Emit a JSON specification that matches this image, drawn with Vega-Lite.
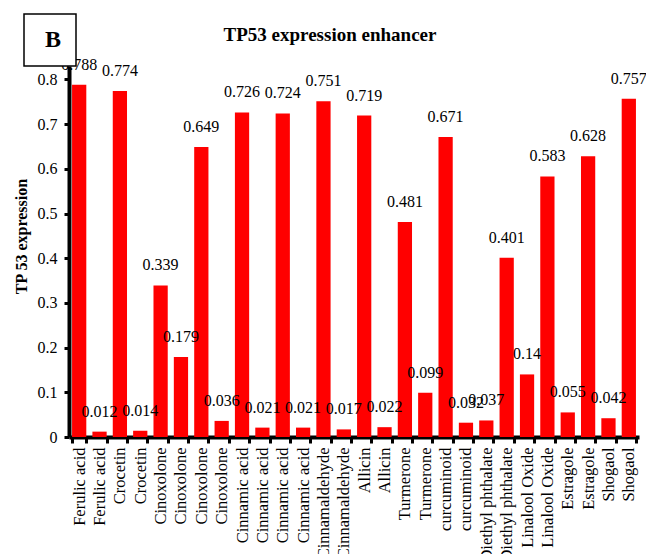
{
  "$schema": "https://vega.github.io/schema/vega-lite/v6.json",
  "width": 570,
  "height": 371,
  "autosize": "none",
  "padding": {"left": 69, "top": 66, "right": 7, "bottom": 117},
  "title": {
    "text": "TP53 expression enhancer",
    "font": "Times New Roman, Liberation Serif, serif",
    "fontSize": 19,
    "fontWeight": "bold",
    "color": "black",
    "anchor": "middle",
    "dx": -24,
    "dy": 52,
    "offset": 20
  },
  "data": {
    "values": [
      {"i": 0, "name": "Ferulic acid", "v": 0.788},
      {"i": 1, "name": "Ferulic acid", "v": 0.012},
      {"i": 2, "name": "Crocetin", "v": 0.774},
      {"i": 3, "name": "Crocetin", "v": 0.014},
      {"i": 4, "name": "Cinoxolone", "v": 0.339},
      {"i": 5, "name": "Cinoxolone", "v": 0.179},
      {"i": 6, "name": "Cinoxolone", "v": 0.649},
      {"i": 7, "name": "Cinoxolone", "v": 0.036},
      {"i": 8, "name": "Cinnamic acid", "v": 0.726},
      {"i": 9, "name": "Cinnamic acid", "v": 0.021},
      {"i": 10, "name": "Cinnamic acid", "v": 0.724},
      {"i": 11, "name": "Cinnamic acid", "v": 0.021},
      {"i": 12, "name": "Cinnamaldehyde", "v": 0.751},
      {"i": 13, "name": "Cinnamaldehyde", "v": 0.017},
      {"i": 14, "name": "Allicin", "v": 0.719},
      {"i": 15, "name": "Allicin", "v": 0.022},
      {"i": 16, "name": "Turmerone", "v": 0.481},
      {"i": 17, "name": "Turmerone", "v": 0.099},
      {"i": 18, "name": "curcuminoid", "v": 0.671},
      {"i": 19, "name": "curcuminoid", "v": 0.032},
      {"i": 20, "name": "Diethyl phthalate", "v": 0.037},
      {"i": 21, "name": "Diethyl phthalate", "v": 0.401},
      {"i": 22, "name": "Linalool Oxide", "v": 0.14},
      {"i": 23, "name": "Linalool Oxide", "v": 0.583},
      {"i": 24, "name": "Estragole", "v": 0.055},
      {"i": 25, "name": "Estragole", "v": 0.628},
      {"i": 26, "name": "Shogaol", "v": 0.042},
      {"i": 27, "name": "Shogaol", "v": 0.757}
    ]
  },
  "encoding": {
    "x": {
      "field": "i",
      "type": "ordinal",
      "scale": {"paddingInner": 0.3, "paddingOuter": 0.15},
      "axis": {
        "title": null,
        "labelExpr": "['Ferulic acid','Ferulic acid','Crocetin','Crocetin','Cinoxolone','Cinoxolone','Cinoxolone','Cinoxolone','Cinnamic acid','Cinnamic acid','Cinnamic acid','Cinnamic acid','Cinnamaldehyde','Cinnamaldehyde','Allicin','Allicin','Turmerone','Turmerone','curcuminoid','curcuminoid','Diethyl phthalate','Diethyl phthalate','Linalool Oxide','Linalool Oxide','Estragole','Estragole','Shogaol','Shogaol'][datum.value]",
        "labelAngle": 270,
        "labelFont": "Times New Roman, Liberation Serif, serif",
        "labelFontSize": 16.5,
        "labelColor": "black",
        "labelPadding": 4,
        "labelLimit": 200,
        "domainColor": "black",
        "domainWidth": 4,
        "tickColor": "black",
        "tickWidth": 3,
        "tickSize": 6,
        "tickBand": "extent"
      }
    },
    "y": {
      "field": "v",
      "type": "quantitative",
      "scale": {"domain": [0, 0.83], "nice": false},
      "axis": {
        "title": "TP 53 expression",
        "titleFont": "Times New Roman, Liberation Serif, serif",
        "titleFontSize": 16,
        "titleFontWeight": "bold",
        "titleColor": "black",
        "titleY": 170,
        "titlePadding": 8,
        "values": [0, 0.1, 0.2, 0.3, 0.4, 0.5, 0.6, 0.7, 0.8],
        "format": "~g",
        "labelFont": "Times New Roman, Liberation Serif, serif",
        "labelFontSize": 16,
        "labelColor": "black",
        "labelPadding": 7,
        "domainColor": "black",
        "domainWidth": 4,
        "tickColor": "black",
        "tickWidth": 3,
        "tickSize": 5,
        "grid": false
      }
    }
  },
  "layer": [
    {
      "mark": {"type": "bar"},
      "encoding": {
        "color": {
          "datum": "B",
          "scale": {"range": ["#ff0000"]},
          "legend": {
            "orient": "none",
            "legendX": -45,
            "legendY": -52,
            "title": null,
            "symbolSize": 0,
            "symbolStrokeWidth": 0,
            "labelFont": "Times New Roman, Liberation Serif, serif",
            "labelFontSize": 24,
            "labelFontWeight": "bold",
            "labelColor": "black",
            "labelOffset": -17,
            "strokeColor": "black",
            "padding": 14,
            "encode": {"legend": {"update": {"strokeWidth": {"value": 1.5}, "fill": {"value": "white"}}}}
          }
        }
      }
    },
    {
      "mark": {
        "type": "text",
        "dy": -20,
        "baseline": "middle",
        "font": "Times New Roman, Liberation Serif, serif",
        "fontSize": 16,
        "color": "black"
      },
      "encoding": {
        "text": {"field": "v", "type": "quantitative", "format": "~g"}
      }
    }
  ],
  "config": {"view": {"stroke": null}}
}
